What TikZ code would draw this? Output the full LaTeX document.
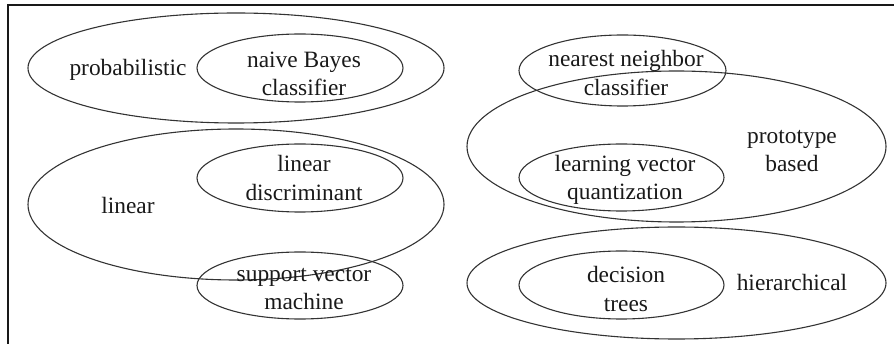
\documentclass[tikz,border=0pt]{standalone}
\usepackage{fontspec}
\setmainfont{Liberation Serif}
\begin{document}
\begin{tikzpicture}[x=1pt,y=-1pt,
  ell/.style={draw=black!80, line width=1.1pt},
  lbl/.style={font=\fontsize{23.4}{28.5}\selectfont, align=center, inner sep=0pt, text=black!90},
  frame/.style={draw=black!90, line width=2pt}]
\useasboundingbox (0,0) rectangle (894,344);
% frame (only top and left edges visible)
\coordinate (ftl) at (8,5);
\coordinate (ftr) at (894,5);
\coordinate (fbl) at (8,344);
\draw[frame] (ftr) -- (ftl) -- (fbl);
% left column
\draw[ell] (236,68) ellipse [x radius=208, y radius=55];
\draw[ell] (300,68) ellipse [x radius=103, y radius=34];
\draw[ell] (236,204.5) ellipse [x radius=208, y radius=75.5];
\draw[ell] (300,178) ellipse [x radius=103, y radius=34];
\draw[ell] (300,285.5) ellipse [x radius=103, y radius=33.5];
% right column
\draw[ell] (622.5,70.5) ellipse [x radius=103.5, y radius=35.5];
\draw[ell] (676.5,146.5) ellipse [x radius=209.5, y radius=75.5];
\draw[ell] (621.5,177.5) ellipse [x radius=102.5, y radius=33.5];
\draw[ell] (676.5,283) ellipse [x radius=209.5, y radius=56];
\draw[ell] (621.5,285) ellipse [x radius=102.5, y radius=34];
% labels
\node[lbl] (prob) at (128,70) {probabilistic};
\node[lbl] (nb) at (304,74) {naive Bayes\\classifier};
\node[lbl] (lin) at (128,205) {linear};
\node[lbl] (ld) at (304,178) {linear\\discriminant};
\node[lbl] (svm) at (304,289) {support vector\\machine};
\node[lbl] (nn) at (626,73) {nearest neighbor\\classifier};
\node[lbl] (proto) at (792,151) {prototype\\based};
\node[lbl] (lvq) at (625,180) {learning vector\\quantization};
\node[lbl] (dt) at (626,289) {decision\\trees};
\node[lbl] (hier) at (792,282) {hierarchical};
\end{tikzpicture}
\end{document}
